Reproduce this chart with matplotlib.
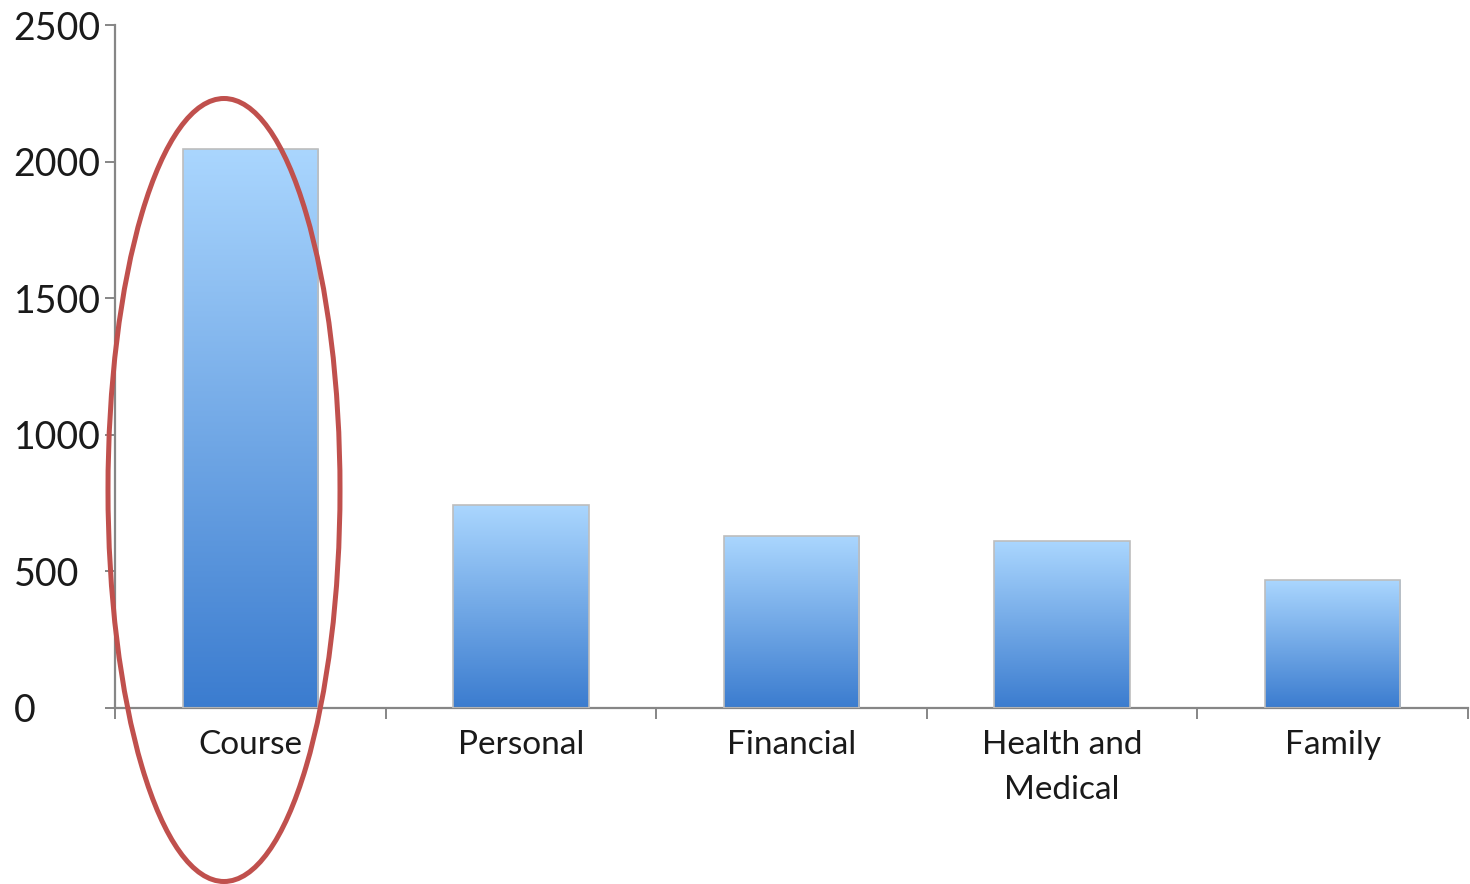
import numpy as np
import matplotlib
matplotlib.use("Agg")
import matplotlib.pyplot as plt
from matplotlib.colors import LinearSegmentedColormap
from matplotlib.patches import Ellipse

categories = ["Course", "Personal", "Financial", "Health and\nMedical", "Family"]
counts = [2045, 742, 628, 610, 468]
y_ticks = [0, 500, 1000, 1500, 2000, 2500]

plt.rcParams["font.family"] = ["Lato", "DejaVu Sans"]

AXIS_GRAY = "#868686"
TOP_BLUE = "#AAD6FE"
BOTTOM_BLUE = "#3B7CCF"

fig = plt.figure(figsize=(14.7, 8.84), dpi=100)
ax = fig.add_axes([115 / 1470, 1 - 708 / 884, (1468 - 115) / 1470, (708 - 25) / 884])

x = np.arange(len(categories))
bars = ax.bar(x, counts, width=0.5, facecolor="none", edgecolor="#BDBDBD",
              linewidth=1.2, zorder=3)

# vertical gradient fill for each bar
grad_cmap = LinearSegmentedColormap.from_list("bar_grad", [BOTTOM_BLUE, TOP_BLUE])
grad = np.linspace(0, 1, 256).reshape(-1, 1)
for patch in bars.patches:
    x0 = patch.get_x()
    x1 = x0 + patch.get_width()
    ax.imshow(grad, cmap=grad_cmap, origin="lower", aspect="auto",
              extent=[x0, x1, 0, patch.get_height()], zorder=2,
              interpolation="bilinear")

ax.set_xlim(-0.5, len(categories) - 0.5)
ax.set_ylim(0, 2500)

for side in ["top", "right"]:
    ax.spines[side].set_visible(False)
for side in ["left", "bottom"]:
    ax.spines[side].set_color(AXIS_GRAY)
    ax.spines[side].set_linewidth(1.6)

ax.set_yticks(y_ticks)
ax.set_yticklabels([str(v) for v in y_ticks], ha="left")
ax.tick_params(axis="y", length=7, width=1.4, color=AXIS_GRAY, pad=66,
               labelsize=27, labelcolor="#1a1a1a")

ax.set_xticks(x)
ax.set_xticklabels(categories, linespacing=1.6)
ax.tick_params(axis="x", which="major", length=0, pad=16, labelsize=24,
               labelcolor="#1a1a1a")
ax.set_xticks(np.arange(-0.5, len(categories)), minor=True)
ax.tick_params(axis="x", which="minor", length=8, width=1.4, color=AXIS_GRAY)

# red highlight ring around the first category
ring = Ellipse((224 / 1470, 1 - 490 / 884), 232 / 1470, 783 / 884,
               transform=fig.transFigure, fill=False, edgecolor="#C0504D",
               linewidth=3.6, clip_on=False, zorder=5)
fig.add_artist(ring)

fig.savefig("out.png", dpi=100)
